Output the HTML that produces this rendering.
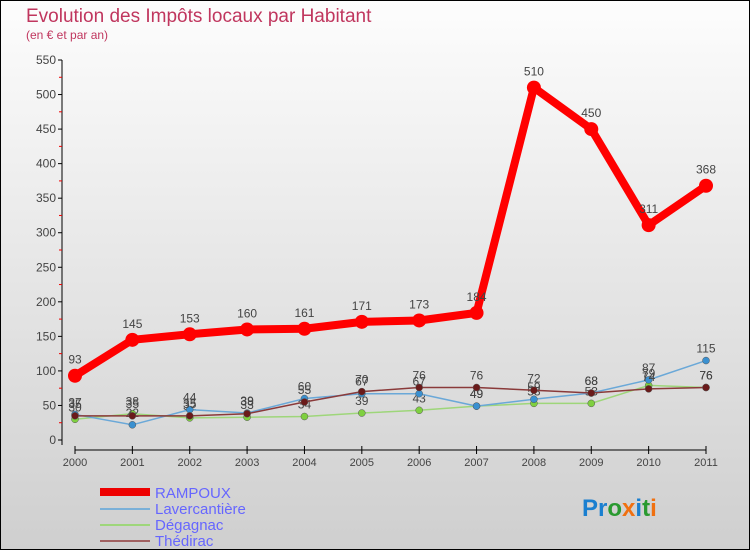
<!DOCTYPE html>
<html><head><meta charset="utf-8"><style>
body{margin:0}
#c{width:750px;height:550px;position:relative;box-sizing:border-box;border:1px solid #000;background:linear-gradient(#fdfdfd,#cfcfcf);font-family:"Liberation Sans",sans-serif;overflow:hidden}
</style></head><body>
<div id="c">
<svg id="s" width="750" height="550" style="position:absolute;left:-1px;top:-1px">
<text x="26" y="22" font-size="19" fill="#c0365e">Evolution des Impôts locaux par Habitant</text>
<text x="26" y="39" font-size="12" fill="#c0365e">(en € et par an)</text>
<g id="axes"></g><g id="series"></g>
<g>
<rect x="100" y="488" width="50" height="8" fill="#e00"/>
<text x="155" y="498" font-size="15" fill="#6666ff">RAMPOUX</text>
<line x1="100" x2="150" y1="509" y2="509" stroke="#7ab0d8" stroke-width="2"/>
<text x="155" y="514" font-size="15" fill="#6666ff">Lavercantière</text>
<line x1="100" x2="150" y1="525" y2="525" stroke="#9ed67a" stroke-width="2"/>
<text x="155" y="530" font-size="15" fill="#6666ff">Dégagnac</text>
<line x1="100" x2="150" y1="541" y2="541" stroke="#a06060" stroke-width="2"/>
<text x="155" y="546" font-size="15" fill="#6666ff">Thédirac</text>
</g>
<text x="582" y="516" font-size="24" font-weight="bold"><tspan fill="#1a7fd0">Pr</tspan><tspan fill="#2a9a30">o</tspan><tspan fill="#f07010">x</tspan><tspan fill="#1a7fd0">i</tspan><tspan fill="#2a9a30">t</tspan><tspan fill="#f07010">i</tspan></text>
</svg>
</div>
<script>
const years=["2000","2001","2002","2003","2004","2005","2006","2007","2008","2009","2010","2011"];
const yTicks=[0,50,100,150,200,250,300,350,400,450,500,550];
const rampoux=[93,145,153,160,161,171,173,184,510,450,311,368];
const lavercantiere=[37,22,44,39,60,67,67,49,59,68,87,115];
const degagnac=[30,38,32,33,34,39,43,49,53,53,79,76];
const thedirac=[35,35,35,38,55,70,76,76,72,68,74,76];
const NS="http://www.w3.org/2000/svg";
const X=i=>75+i*(706-75)/11;
const Y=v=>440-v*(380/550);
function mk(t,a,p){const e=document.createElementNS(NS,t);for(const k in a)e.setAttribute(k,a[k]);p.appendChild(e);return e;}
const ax=document.getElementById('axes'),sg=document.getElementById('series');
let yl=mk('line',{x1:62,x2:62,y1:60,y2:445,stroke:'#000'},ax);


yTicks.forEach((v,i)=>{
 mk('line',{x1:58,x2:62,y1:Y(v),y2:Y(v),stroke:'#000'},ax);
 if(i<yTicks.length-1)mk('line',{x1:59,x2:62,y1:Y(v+25),y2:Y(v+25),stroke:'#e00'},ax);
 const t=mk('text',{x:56,y:Y(v)+4,'font-size':12,fill:'#444','text-anchor':'end'},ax);t.textContent=v;
 
 
});
let xl=mk('line',{x1:75,x2:706,y1:450,y2:450,stroke:'#000'},ax);


years.forEach((y,i)=>{
 mk('line',{x1:X(i),x2:X(i),y1:446,y2:454,stroke:'#000'},ax);
 const t=mk('text',{x:X(i),y:466,'font-size':11,fill:'#444','text-anchor':'middle'},ax);t.textContent=y;
 
 
});
function series(d,col,lw,r,name,fill){
 const g=mk('g',{},sg);
 
 
 mk('polyline',{points:d.map((v,i)=>X(i)+','+Y(v)).join(' '),fill:'none',stroke:col,'stroke-width':lw,'stroke-linejoin':'round'},g);
 d.forEach((v,i)=>{
  const c=mk('circle',{cx:X(i),cy:Y(v),r:r,fill:fill,stroke:'#555','stroke-width':r>5?0:0.5},g);
  
  
  const t=mk('text',{x:X(i),y:Y(v)-(r>5?12:8),'font-size':12,fill:'#444','text-anchor':'middle'},g);t.textContent=v;
 });
}
series(degagnac,'#9ed67a',1.5,3.5,'degagnac','#7fd040');
series(lavercantiere,'#6aa8d8',1.5,3.5,'lavercantiere','#3a90d0');
series(thedirac,'#8a3a3a',1.5,3.5,'thedirac','#6a1a1a');
series(rampoux,'#f00',8,7,'rampoux','#f00');
</script>
</body></html>
